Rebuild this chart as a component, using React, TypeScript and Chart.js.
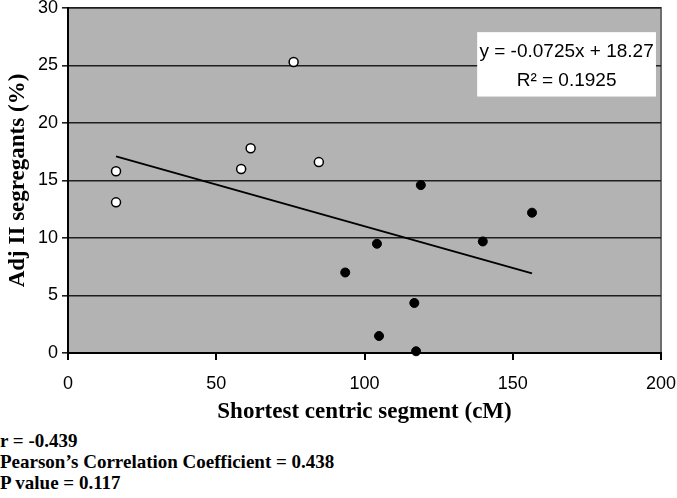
import React, { useEffect, useRef } from "react";
import { Chart, registerables } from "chart.js";

Chart.register(...registerables);

const openX = [16.2, 16.2, 76.1, 58.4, 61.6, 84.6];
const openY = [15.8, 13.1, 25.3, 16.0, 17.8, 16.6];
const filledX = [119.0, 156.5, 104.2, 139.9, 93.5, 116.8, 104.9, 117.4];
const filledY = [14.6, 12.2, 9.5, 9.7, 7.0, 4.35, 1.48, 0.15];
const trendX = [16.2, 156.5];
const slope = -0.0725;
const intercept = 18.27;
const xTicks = [0, 50, 100, 150, 200];
const yTicks = [0, 5, 10, 15, 20, 25, 30];
const equationLines = ["y = -0.0725x + 18.27", "R² = 0.1925"];
const statsLines = ["r = -0.439", "Pearson\u2019s Correlation Coefficient = 0.438", "P value = 0.117"];

const plotBg = {
  id: "plotBg",
  beforeDraw(chart: any) {
    const { ctx, chartArea: a } = chart;
    ctx.save();
    ctx.fillStyle = "#b3b3b3";
    ctx.fillRect(a.left, a.top, a.right - a.left, a.bottom - a.top);
    ctx.strokeStyle = "#6e6e6e";
    ctx.lineWidth = 2;
    ctx.beginPath();
    ctx.moveTo(a.left, a.top);
    ctx.lineTo(a.right, a.top);
    ctx.lineTo(a.right, a.bottom);
    ctx.stroke();
    ctx.restore();
  },
};

const eqBox = {
  id: "eqBox",
  afterDatasetsDraw(chart: any) {
    const { ctx } = chart;
    const xs = chart.scales.x;
    const ys = chart.scales.y;
    const left = xs.getPixelForValue(138);
    const right = xs.getPixelForValue(198.3);
    const top = ys.getPixelForValue(27.9);
    const bottom = ys.getPixelForValue(22.3);
    ctx.save();
    ctx.fillStyle = "#ffffff";
    ctx.fillRect(left, top, right - left, bottom - top);
    ctx.fillStyle = "#000";
    ctx.font = "19px 'Liberation Sans', Arial, sans-serif";
    ctx.textAlign = "center";
    ctx.textBaseline = "middle";
    const cx = (left + right) / 2;
    ctx.fillText(equationLines[0], cx, top + 20);
    ctx.fillText(equationLines[1], cx, top + 49);
    ctx.restore();
  },
};

export default function App() {
  const ref = useRef<HTMLCanvasElement>(null);
  useEffect(() => {
    if (!ref.current) return;
    const chart = new Chart(ref.current, {
      type: "scatter",
      data: {
        datasets: [
          {
            label: "trend",
            type: "line",
            data: trendX.map((x) => ({ x, y: slope * x + intercept })),
            borderColor: "#000",
            borderWidth: 2,
            pointRadius: 0,
            fill: false,
          } as any,
          {
            label: "open",
            data: openX.map((x, i) => ({ x, y: openY[i] })),
            backgroundColor: "#ffffff",
            borderColor: "#000",
            borderWidth: 1.5,
            pointRadius: 4.5,
            clip: false,
          } as any,
          {
            label: "filled",
            data: filledX.map((x, i) => ({ x, y: filledY[i] })),
            backgroundColor: "#000",
            borderColor: "#000",
            borderWidth: 1,
            pointRadius: 4.5,
            clip: false,
          } as any,
        ],
      },
      options: {
        animation: false,
        responsive: false,
        layout: { padding: { top: 8, right: 16, left: 0, bottom: 0 } },
        plugins: { legend: { display: false }, tooltip: { enabled: false } },
        scales: {
          x: {
            type: "linear",
            min: 0,
            max: 200,
            afterBuildTicks: (s: any) => {
              s.ticks = xTicks.map((v) => ({ value: v }));
            },
            afterFit: (s: any) => {
              s.height = 77;
              s.paddingLeft = 0;
              s.paddingRight = 0;
            },
            ticks: {
              color: "#000",
              font: { family: "'Liberation Sans', Arial, sans-serif", size: 18 },
              padding: 13,
            },
            grid: { drawOnChartArea: false, drawTicks: true, tickLength: 7, color: "#000", lineWidth: 2 },
            border: { color: "#000", width: 2 },
            title: {
              display: true,
              text: "Shortest centric segment (cM)",
              color: "#000",
              font: { family: "'Liberation Serif', 'Times New Roman', serif", size: 23, weight: "bold" },
              padding: { top: 0, bottom: 4 },
            },
          },
          y: {
            type: "linear",
            min: 0,
            max: 30,
            afterBuildTicks: (s: any) => {
              s.ticks = yTicks.map((v) => ({ value: v }));
            },
            afterFit: (s: any) => {
              s.width = 68;
              s.paddingTop = 0;
              s.paddingBottom = 0;
            },
            ticks: {
              color: "#000",
              font: { family: "'Liberation Sans', Arial, sans-serif", size: 18 },
              padding: 4,
            },
            grid: { color: "#1e1e1e", lineWidth: 1.6, tickLength: 6 },
            border: { color: "#000", width: 2 },
            title: {
              display: true,
              text: "Adj II segregants (%)",
              color: "#000",
              font: { family: "'Liberation Serif', 'Times New Roman', serif", size: 23, weight: "bold" },
              padding: { top: 4, bottom: 0 },
            },
          },
        },
      },
      plugins: [plotBg, eqBox],
    } as any);
    return () => chart.destroy();
  }, []);

  return (
    <div style={{ position: "absolute", left: 0, top: 0, width: 677, height: 498, background: "#fff" }}>
      <canvas ref={ref} width={677} height={430} style={{ display: "block" }} />
      <div
        style={{
          position: "absolute",
          left: 0,
          top: 430,
          fontFamily: "'Liberation Serif', 'Times New Roman', serif",
          fontWeight: "bold",
          fontSize: 19,
          lineHeight: "21px",
          color: "#000",
        }}
      >
        {statsLines.map((t, i) => (
          <div key={i}>{t}</div>
        ))}
      </div>
    </div>
  );
}
